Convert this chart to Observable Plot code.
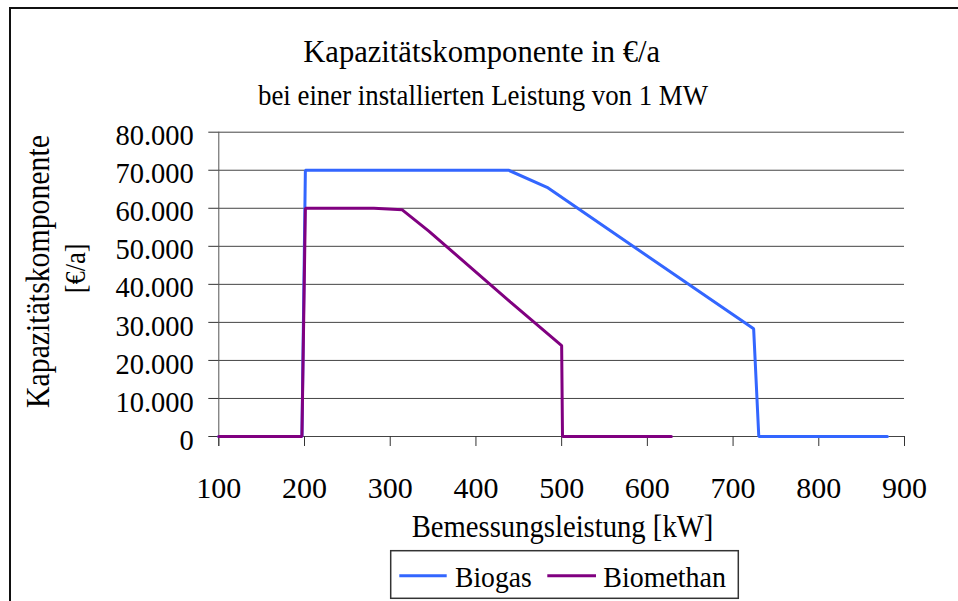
<!DOCTYPE html>
<html>
<head>
<meta charset="utf-8">
<script src="https://cdn.jsdelivr.net/npm/d3@7"></script>
<script src="https://cdn.jsdelivr.net/npm/@observablehq/plot@0.6"></script>
<style>
  html, body { margin: 0; padding: 0; background: #fff; }
  #wrap { position: relative; width: 958px; height: 601px; overflow: hidden; background: #fff;
          font-family: "Liberation Serif", "Times New Roman", serif; }
  #wrap > svg { position: absolute; left: 0; top: 0; }
</style>
</head>
<body>
<div id="wrap"></div>
<script>
// ---- data ----
const seriesNames = ["Biogas", "Biomethan"];
const seriesColors = ["#3366ff", "#800080"];

const biogasX = [100, 197, 201, 438, 483, 724, 730, 880];
const biogasY = [0, 0, 70000, 70000, 65500, 28300, 0, 0];

const biomethanX = [100, 197, 201, 281, 314, 345, 440, 500, 501, 628];
const biomethanY = [0, 0, 60000, 60000, 59600, 54000, 35400, 23900, 0, 0];

const xTicks = [100, 200, 300, 400, 500, 600, 700, 800, 900];
const yTicks = [0, 10000, 20000, 30000, 40000, 50000, 60000, 70000, 80000];

const titleText = "Kapazitätskomponente in €/a";
const subtitleText = "bei einer installierten Leistung von 1 MW";
const xLabel = "Bemessungsleistung [kW]";
const yLabelLines = ["Kapazitätskomponente", "[€/a]"];

// ---- build table ----
const rows = [
  ...biogasX.map((x, i) => ({series: seriesNames[0], x, y: biogasY[i]})),
  ...biomethanX.map((x, i) => ({series: seriesNames[1], x, y: biomethanY[i]}))
];

const deFormat = d3.formatLocale({decimal: ",", thousands: ".", grouping: [3], currency: ["", "€"]}).format(",d");

const W = 958, H = 601;
const mL = 218.3, mR = 54, mT = 131.7, mB = 165;

const chart = Plot.plot({
  width: W,
  height: H,
  marginLeft: mL,
  marginRight: mR,
  marginTop: mT,
  marginBottom: mB,
  style: {fontFamily: '"Liberation Serif", "Times New Roman", serif', color: "#000", background: "transparent", overflow: "visible"},
  x: {domain: [100, 900], ticks: xTicks},
  y: {domain: [0, 80000], ticks: yTicks},
  color: {domain: seriesNames, range: seriesColors},
  marks: [
    Plot.gridY(yTicks, {stroke: "#444", strokeOpacity: 1, strokeWidth: 1}),
    Plot.ruleX([100], {stroke: "#555", strokeWidth: 1, insetBottom: -10}),
    Plot.ruleY([0], {stroke: "#444", strokeWidth: 1}),
    // y ticks (no labels)
    Plot.axisY(yTicks, {tickSize: 10, tickFormat: () => "", label: null, stroke: "#333"}),
    // y labels (no ticks), nudged down like the reference
    Plot.axisY(yTicks, {tickSize: 0, tickPadding: 25, tickFormat: deFormat, fontSize: 28.5, dy: 4, label: null}),
    Plot.axisX(xTicks, {tickSize: 10, tickPadding: 29.7, tickFormat: d => String(d), fontSize: 30, label: null, stroke: "#333"}),
    Plot.line(rows, {x: "x", y: "y", z: "series", stroke: "series", strokeWidth: 3, strokeLinejoin: "miter", curve: "linear"})
  ]
});

const wrap = document.getElementById("wrap");
wrap.appendChild(chart);

// ---- overlay: frame, titles, axis labels, legend ----
const ns = "http://www.w3.org/2000/svg";
const ov = document.createElementNS(ns, "svg");
ov.setAttribute("width", W);
ov.setAttribute("height", H);
ov.setAttribute("font-family", '"Liberation Serif", "Times New Roman", serif');
wrap.appendChild(ov);

function el(tag, attrs, text) {
  const e = document.createElementNS(ns, tag);
  for (const k in attrs) e.setAttribute(k, attrs[k]);
  if (text != null) e.textContent = text;
  ov.appendChild(e);
  return e;
}

// outer frame (extends beyond right/bottom edge)
el("rect", {x: 10, y: 8, width: 1000, height: 700, fill: "none", stroke: "#111", "stroke-width": 2});

// title + subtitle
el("text", {x: 481.7, y: 62, "text-anchor": "middle", "font-size": 32.5, textLength: 357, lengthAdjust: "spacingAndGlyphs", fill: "#000"}, titleText);
el("text", {x: 483, y: 105, "text-anchor": "middle", "font-size": 30, textLength: 450, lengthAdjust: "spacingAndGlyphs", fill: "#000"}, subtitleText);

// x axis label
el("text", {x: 562.5, y: 536.7, "text-anchor": "middle", "font-size": 32, textLength: 301.6, lengthAdjust: "spacingAndGlyphs", fill: "#000"}, xLabel);

// y axis label (two lines, rotated)
el("text", {transform: "translate(49,271.5) rotate(-90)", "text-anchor": "middle", "font-size": 33, textLength: 273, lengthAdjust: "spacingAndGlyphs", fill: "#000"}, yLabelLines[0]);
el("text", {transform: "translate(85,268.3) rotate(-90)", "text-anchor": "middle", "font-size": 30, textLength: 50, lengthAdjust: "spacingAndGlyphs", fill: "#000"}, yLabelLines[1]);

// legend
el("rect", {x: 390.7, y: 550.7, width: 347.6, height: 47.6, fill: "#fff", stroke: "#333", "stroke-width": 1.5});
const legendItems = [
  {x0: 399.3, x1: 446.7, tx: 455, tl: 76.7},
  {x0: 547.3, x1: 596, tx: 603.3, tl: 122.7}
];
seriesNames.forEach((name, i) => {
  const it = legendItems[i];
  el("line", {x1: it.x0, x2: it.x1, y1: 575.7, y2: 575.7, stroke: seriesColors[i], "stroke-width": 3});
  el("text", {x: it.tx, y: 586.7, "font-size": 29, textLength: it.tl, lengthAdjust: "spacingAndGlyphs", fill: "#000"}, name);
});
</script>
</body>
</html>
